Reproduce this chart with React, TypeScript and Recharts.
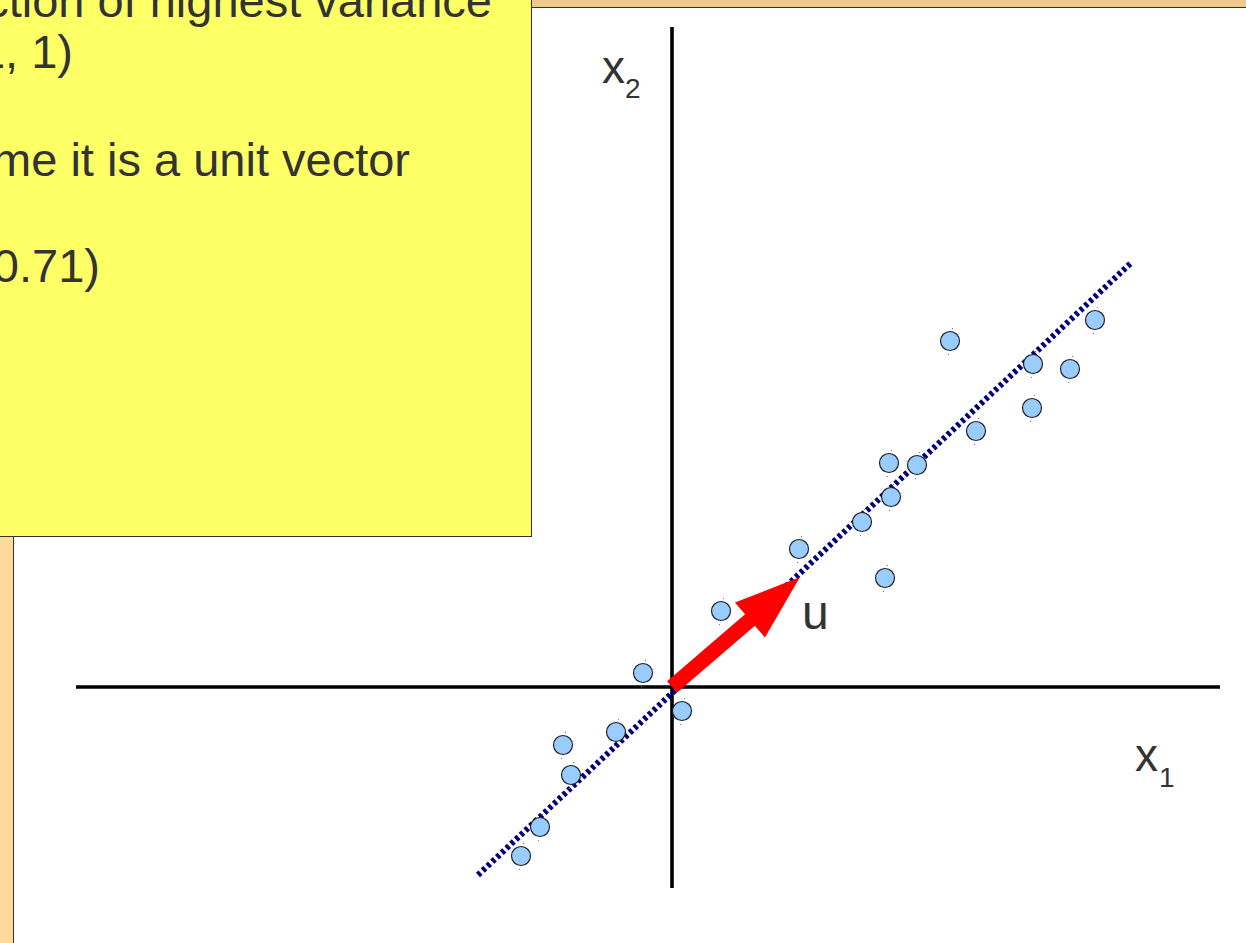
import { ScatterChart, Scatter, XAxis, YAxis, ReferenceLine } from 'recharts';

// sample points (x1, x2), one unit = 100px on screen
const samples = [
    { x: 2.78, y: 3.46 },
    { x: 4.23, y: 3.67 },
    { x: 3.61, y: 3.23 },
    { x: 3.98, y: 3.18 },
    { x: 3.60, y: 2.79 },
    { x: 3.04, y: 2.56 },
    { x: 2.17, y: 2.24 },
    { x: 2.45, y: 2.22 },
    { x: 2.19, y: 1.90 },
    { x: 1.90, y: 1.65 },
    { x: 1.27, y: 1.38 },
    { x: 2.13, y: 1.09 },
    { x: 0.49, y: 0.76 },
    { x: -0.29, y: 0.14 },
    { x: 0.10, y: -0.24 },
    { x: -0.56, y: -0.45 },
    { x: -1.09, y: -0.58 },
    { x: -1.01, y: -0.88 },
    { x: -1.32, y: -1.40 },
    { x: -1.51, y: -1.69 },
];

// axis extents
const x1Axis = [{ x: -5.96, y: 0 }, { x: 5.48, y: 0 }];
const x2Axis = [{ x: 0, y: -2.01 }, { x: 0, y: 6.60 }];

// principal direction line
const principal = [{ x: -1.94, y: -1.88 }, { x: 4.60, y: 4.25 }];

// vector u, from the origin
const uVector = [{ x: 0, y: 0 }, { x: 1.28, y: 1.10 }];

const textLines = [
    'Direction of highest variance',
    'u = (1, 1)',
    'Assume it is a unit vector',
    'u = (0.71, 0.71)',
];

const W = 1246;
const H = 943;
const FONT = '"Liberation Sans", Arial, sans-serif';

function Dot(props: any) {
    const { cx, cy } = props;
    return (
        <g>
            <circle cx={cx} cy={cy} r={9.5} fill="#99ccff" stroke="#222" strokeWidth={1.2} />
            <rect x={cx + 2} y={cy - 13} width={1} height={1} fill="#777" />
            <rect x={cx - 2} y={cy + 13} width={1} height={1} fill="#777" />
        </g>
    );
}

function Arrow(props: any) {
    const { x1, y1, x2, y2 } = props;
    const dx = x2 - x1;
    const dy = y2 - y1;
    const len = Math.hypot(dx, dy);
    const ux = dx / len;
    const uy = dy / len;
    const nx = -uy;
    const ny = ux;
    const head = 66;
    const hw = 23;
    const sw = 7.5;
    const bx = x2 - ux * head;
    const by = y2 - uy * head;
    const pts = [
        [x1 + nx * sw, y1 + ny * sw],
        [bx + nx * sw, by + ny * sw],
        [bx + nx * hw, by + ny * hw],
        [x2, y2],
        [bx - nx * hw, by - ny * hw],
        [bx - nx * sw, by - ny * sw],
        [x1 - nx * sw, y1 - ny * sw],
    ];
    return <polygon points={pts.map((p) => p.join(',')).join(' ')} fill="#ff0000" />;
}

export default function App() {
    const baselines = [17, 68, 176, 282];
    const ends = [492, 73, 410, 100];

    return (
        <div style={{ position: 'absolute', left: 0, top: 0, width: W, height: H, background: '#fff', overflow: 'hidden', fontFamily: FONT }}>
            {/* slide frame */}
            <div style={{ position: 'absolute', left: 0, top: 0, width: W, height: 7, background: '#f0c98d', borderBottom: '1px solid #3a3020' }} />
            <div style={{ position: 'absolute', left: 0, top: 0, width: 13, height: H, background: '#fdd99b', borderRight: '1px solid #3a3020' }} />

            <div style={{ position: 'absolute', left: 0, top: 0 }}>
                <ScatterChart width={W} height={H} margin={{ top: 0, right: 0, bottom: 0, left: 0 }}>
                    <XAxis type="number" dataKey="x" domain={[-6.72, 5.74]} allowDataOverflow hide />
                    <YAxis type="number" dataKey="y" domain={[-2.56, 6.87]} allowDataOverflow hide />
                    <ReferenceLine segment={x1Axis} stroke="#000" strokeWidth={3.6} />
                    <ReferenceLine segment={x2Axis} stroke="#000" strokeWidth={3.6} />
                    <ReferenceLine segment={principal} stroke="#000080" strokeWidth={6} strokeDasharray="3.5 3" />
                    <Scatter data={samples} shape={<Dot />} isAnimationActive={false} />
                    <ReferenceLine segment={uVector} shape={(p: any) => <Arrow {...p} />} />
                </ScatterChart>
            </div>

            {/* axis and vector labels */}
            <svg width={W} height={H} style={{ position: 'absolute', left: 0, top: 0, pointerEvents: 'none' }}>
                <g fill="#333" fontFamily={FONT}>
                    <text x={602} y={83} fontSize={46}>x</text>
                    <text x={625} y={98} fontSize={28}>2</text>
                    <text x={1135} y={771} fontSize={46}>x</text>
                    <text x={1159} y={787} fontSize={28}>1</text>
                    <text x={802} y={629} fontSize={48}>u</text>
                </g>
            </svg>

            {/* note box */}
            <div style={{ position: 'absolute', left: 0, top: 0, width: 531, height: 536, background: '#ffff66', borderRight: '1px solid #333', borderBottom: '1px solid #333', overflow: 'hidden' }}>
                <svg width={531} height={536}>
                    {textLines.map((t, i) => (
                        <text key={i} x={ends[i]} y={baselines[i]} textAnchor="end" fontSize={47} fill="#333" fontFamily={FONT}>
                            {t}
                        </text>
                    ))}
                </svg>
            </div>
        </div>
    );
}
